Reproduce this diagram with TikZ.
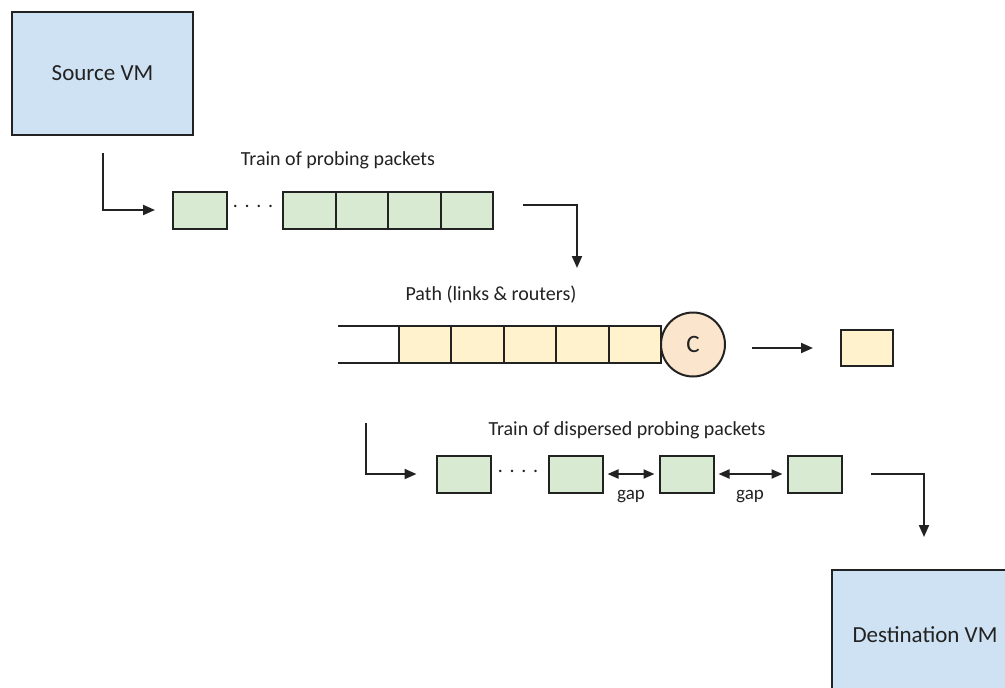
\documentclass[tikz,border=0pt]{standalone}
\usepackage{fontspec}
\setmainfont{Carlito}
\usetikzlibrary{arrows.meta,positioning,calc}
\definecolor{vmblue}{HTML}{CFE2F3}
\definecolor{pkgreen}{HTML}{D9EAD3}
\definecolor{pkyellow}{HTML}{FFF2CC}
\definecolor{rtorange}{HTML}{FCE5CD}
\definecolor{ink}{HTML}{222222}
\tikzset{
  base/.style={draw=ink, line width=2pt, outer sep=0pt, inner sep=0pt, text=ink},
  vmbox/.style={base, fill=vmblue, font=\fontsize{23}{27}\selectfont},
  gpk/.style={base, fill=pkgreen, minimum width=54pt, minimum height=37pt},
  gcell/.style={base, fill=pkgreen, minimum width=52.5pt, minimum height=37pt},
  ycell/.style={base, fill=pkyellow, minimum width=52.4pt, minimum height=37pt},
  ypk/.style={base, fill=pkyellow, minimum width=52pt, minimum height=36pt},
  router/.style={base, circle, fill=rtorange, minimum size=64pt, font=\fontsize{25}{29}\selectfont},
  lbl/.style={text=ink, font=\fontsize{20}{24}\selectfont, inner sep=0pt},
  gaplbl/.style={text=ink, font=\fontsize{19}{22}\selectfont, inner sep=0pt},
  dotlbl/.style={text=ink, font=\fontsize{20}{24}\selectfont, inner sep=0pt},
  arr/.style={draw=ink, line width=2pt, -{Triangle[length=12pt,width=10pt]}},
  darr/.style={draw=ink, line width=2pt, {Triangle[length=11pt,width=9pt]}-{Triangle[length=11pt,width=9pt]}},
  wire/.style={draw=ink, line width=2pt},
}
\begin{document}
\begin{tikzpicture}[x=1pt,y=-1pt]
\clip (0,0) rectangle (1005,688);
\fill[white] (0,0) rectangle (1005,688);

% Source VM
\node[vmbox, minimum width=181pt, minimum height=123pt] (src) at (102.5,73.5) {Source VM};

% Train of probing packets
\node[lbl] (t1) at (338,160) {Train of probing packets};
\node[gpk] (g1) at (200,210) {};
\node[dotlbl] (dots1) at (253,206) {.\,\,.\,\,.\,\,.};
\node[gcell] (g2) at (309.25,210) {};
\node[gcell, right=0pt of g2] (g3) {};
\node[gcell, right=0pt of g3] (g4) {};
\node[gcell, right=0pt of g4] (g5) {};

\coordinate (a1s) at (102.5,153);
\draw[arr, shorten >=18pt] (a1s) |- (g1.west);

\coordinate (a2s) at (523,205);
\coordinate (a2e) at (577,268);
\draw[arr] (a2s) -| (a2e);

% Path
\node[lbl] (t2) at (491,295) {Path (links \& routers)};
\node[ycell] (y1) at (425.2,344.5) {};
\node[ycell, right=0pt of y1] (y2) {};
\node[ycell, right=0pt of y2] (y3) {};
\node[ycell, right=0pt of y3] (y4) {};
\node[ycell, right=0pt of y4] (y5) {};
\coordinate (pt) at (338,326);
\coordinate (pb) at (338,363);
\draw[wire] (pt) -- (y1.north west);
\draw[wire] (pb) -- (y1.south west);
\node[router, right=0pt of y5] (C) {C};
\node[ypk] (yo) at (867,348) {};
\draw[arr, shorten <=27pt, shorten >=28pt] (C.east |- yo.west) -- (yo.west);

% Dispersed train
\node[lbl] (t3) at (627,430) {Train of dispersed probing packets};
\node[gpk] (d1) at (463.5,474) {};
\node[dotlbl] (dots2) at (518,471) {.\,\,.\,\,.\,\,.};
\node[gpk] (d2) at (575.5,474) {};
\node[gpk] (d3) at (686.5,474) {};
\node[gpk] (d4) at (814.5,474) {};
\draw[darr, shorten <=5pt, shorten >=5pt] (d2.east) -- (d3.west);
\draw[darr, shorten <=5pt, shorten >=5pt] (d3.east) -- (d4.west);
\node[gaplbl] (gap1) at (631,497) {gap};
\node[gaplbl] (gap2) at (750,497) {gap};

\coordinate (a4s) at (366,423);
\draw[arr, shorten >=20pt] (a4s) |- (d1.west);

\coordinate (a5s) at (871,474);
\coordinate (a5e) at (924,537);
\draw[arr] (a5s) -| (a5e);

% Destination VM
\node[vmbox, minimum width=186pt, minimum height=130pt] (dst) at (925,635) {Destination VM};
\end{tikzpicture}
\end{document}
